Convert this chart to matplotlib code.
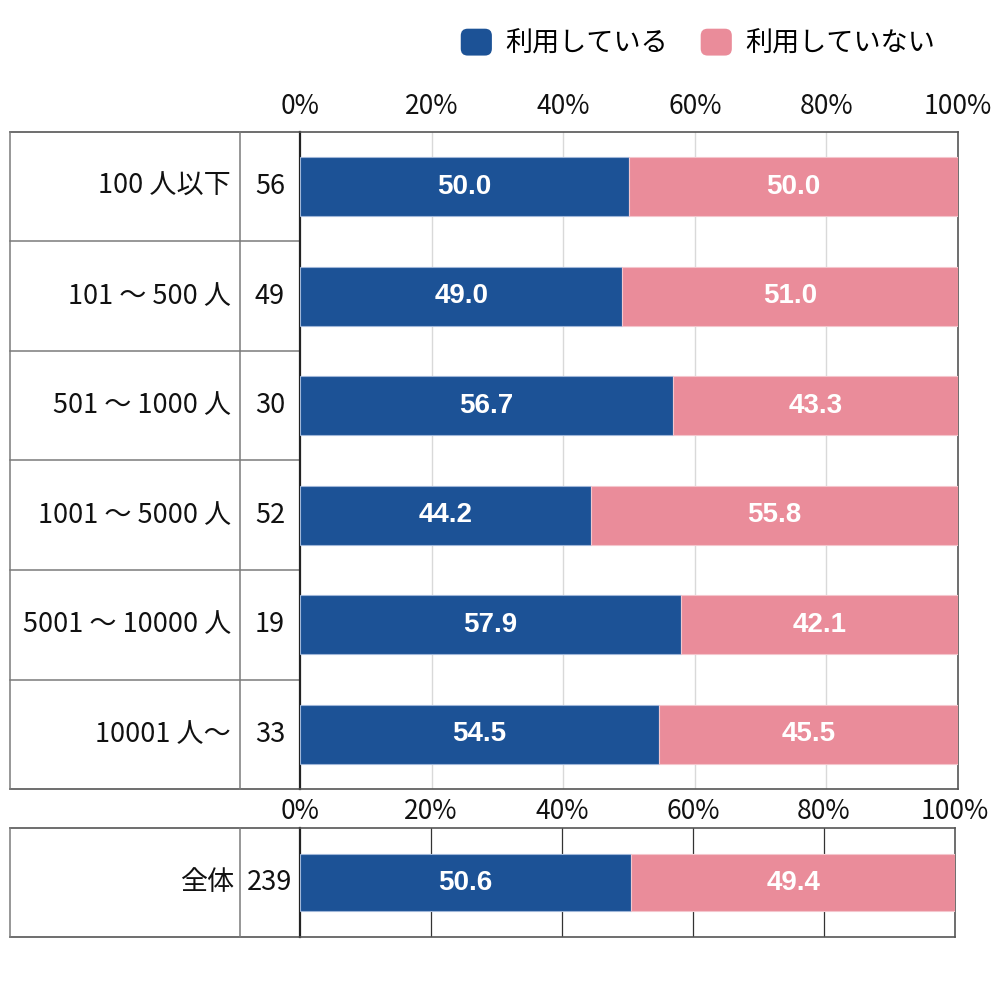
import matplotlib
matplotlib.use("Agg")
import matplotlib.pyplot as plt
from matplotlib.patches import Patch, FancyBboxPatch
from matplotlib.legend_handler import HandlerPatch
from matplotlib.lines import Line2D
import numpy as np

plt.rcParams['font.family'] = ['Noto Sans CJK JP', 'DejaVu Sans']

categories = ['100 人以下', '101 ～ 500 人', '501 ～ 1000 人', '1001 ～ 5000 人', '5001 ～ 10000 人', '10001 人～']
counts = [56, 49, 30, 52, 19, 33]
using = [50.0, 49.0, 56.7, 44.2, 57.9, 54.5]
not_using = [50.0, 51.0, 43.3, 55.8, 42.1, 45.5]
total_label = '全体'
total_count = 239
total_using = 50.6
total_not = 49.4
series_names = ['利用している', '利用していない']
ticks = [0, 20, 40, 60, 80, 100]
tick_labels = ['0%', '20%', '40%', '60%', '80%', '100%']

BLUE = '#1C5296'
PINK = '#EA8C9A'
LINE = '#7a7a7a'
EDGE_B = '#9fb6d8'
EDGE_P = '#f4c6cd'
TXT = '#111111'
TICK_FS = 19
LAB_FS = 19.5
VAL_FS = 20

W, H = 1000, 1005
fig = plt.figure(figsize=(W / 100, H / 100), dpi=100)

def fx(px):
    return px / W

def fy(py):
    return 1 - py / H

# ---- top section ----
L, R, T, B = 300, 958, 132, 789
ax = fig.add_axes([fx(L), fy(B), fx(R) - fx(L), fy(T) - fy(B)])
y = np.arange(len(categories))
ax.barh(y, using, height=0.54, color=BLUE, edgecolor=EDGE_B, linewidth=0.8, zorder=3)
ax.barh(y, not_using, left=using, height=0.54, color=PINK, edgecolor=EDGE_P, linewidth=0.8, zorder=3)
ax.set_xlim(0, 100)
ax.set_ylim(len(categories) - 0.5, -0.5)
ax.set_yticks([])
ax.set_xticks(ticks)
ax.set_xticklabels(tick_labels, fontsize=TICK_FS)
ax.xaxis.tick_top()
ax.tick_params(axis='x', length=0, pad=9, colors=TXT)
for v in ticks[1:-1]:
    ax.axvline(v, color='#d9d9d9', lw=1, zorder=1)
for s in ['top', 'bottom', 'right']:
    ax.spines[s].set_color('#555555')
    ax.spines[s].set_linewidth(1.2)
ax.spines['left'].set_color('#222222')
ax.spines['left'].set_linewidth(1.6)

tr = ax.get_yaxis_transform()
for i in range(len(categories)):
    ax.text(using[i] / 2, i, f'{using[i]:.1f}', ha='center', va='center', color='white',
            fontsize=VAL_FS, fontweight='bold', family='Liberation Sans', zorder=4)
    ax.text(using[i] + not_using[i] / 2, i, f'{not_using[i]:.1f}', ha='center', va='center',
            color='white', fontsize=VAL_FS, fontweight='bold', family='Liberation Sans', zorder=4)
    ax.text((231 - L) / (R - L), i, categories[i], transform=tr,
            ha='right', va='center', fontsize=LAB_FS, color=TXT)
    ax.text((270 - L) / (R - L), i, str(counts[i]), transform=tr,
            ha='center', va='center', fontsize=LAB_FS, color=TXT)

x10 = (10 - L) / (R - L)
x240 = (240 - L) / (R - L)
for k in range(1, len(categories)):
    ax.add_line(Line2D([x10, 0], [k - 0.5, k - 0.5], transform=tr, color=LINE, lw=1.1, clip_on=False))
ax.add_line(Line2D([x10, 0], [-0.5, -0.5], transform=tr, color='#555555', lw=1.2, clip_on=False))
ax.add_line(Line2D([x10, 0], [len(categories) - 0.5] * 2, transform=tr, color='#555555', lw=1.2, clip_on=False))
for xv in [x10, x240]:
    ax.add_line(Line2D([xv, xv], [-0.5, len(categories) - 0.5], transform=tr, color=LINE, lw=1.1, clip_on=False))

# ---- bottom section ----
L2, R2, T2, B2 = 300, 955, 828, 937
ax2 = fig.add_axes([fx(L2), fy(B2), fx(R2) - fx(L2), fy(T2) - fy(B2)])
ax2.barh([0], [total_using], height=0.53, color=BLUE, edgecolor=EDGE_B, linewidth=0.8, zorder=3)
ax2.barh([0], [total_not], left=[total_using], height=0.53, color=PINK, edgecolor=EDGE_P, linewidth=0.8, zorder=3)
ax2.set_xlim(0, 100)
ax2.set_ylim(0.5, -0.5)
ax2.set_yticks([])
ax2.set_xticks(ticks)
ax2.set_xticklabels(tick_labels, fontsize=TICK_FS)
ax2.xaxis.tick_top()
ax2.tick_params(axis='x', length=0, pad=2, colors=TXT)
for v in ticks[1:-1]:
    ax2.axvline(v, color='#333333', lw=0.9, zorder=1)
for s in ['top', 'bottom', 'right']:
    ax2.spines[s].set_color('#555555')
    ax2.spines[s].set_linewidth(1.2)
ax2.spines['left'].set_color('#222222')
ax2.spines['left'].set_linewidth(1.6)
ax2.text(total_using / 2, 0, f'{total_using:.1f}', ha='center', va='center', color='white',
         fontsize=VAL_FS, fontweight='bold', family='Liberation Sans', zorder=4)
ax2.text(total_using + total_not / 2, 0, f'{total_not:.1f}', ha='center', va='center', color='white',
         fontsize=VAL_FS, fontweight='bold', family='Liberation Sans', zorder=4)
tr2 = ax2.get_yaxis_transform()
ax2.text((234 - L2) / (R2 - L2), 0, total_label, transform=tr2, ha='right', va='center',
         fontsize=LAB_FS, color=TXT)
ax2.text((270 - L2) / (R2 - L2), 0, str(total_count), transform=tr2, ha='center', va='center',
         fontsize=LAB_FS, color=TXT)
bx10 = (10 - L2) / (R2 - L2)
bx240 = (240 - L2) / (R2 - L2)
ax2.add_line(Line2D([bx10, 0], [-0.5, -0.5], transform=tr2, color='#555555', lw=1.2, clip_on=False))
ax2.add_line(Line2D([bx10, 0], [0.5, 0.5], transform=tr2, color='#555555', lw=1.2, clip_on=False))
for xv in [bx10, bx240]:
    ax2.add_line(Line2D([xv, xv], [-0.5, 0.5], transform=tr2, color=LINE, lw=1.1, clip_on=False))

# ---- legend ----
class RoundSquare(HandlerPatch):
    def create_artists(self, legend, orig_handle, xdescent, ydescent, width, height, fontsize, trans):
        side = min(width, height)
        p = FancyBboxPatch((-xdescent, -ydescent + (height - side) / 2), width, side,
                           boxstyle='round,pad=0,rounding_size=5',
                           facecolor=orig_handle.get_facecolor(), edgecolor='none', transform=trans)
        return [p]

handles = [Patch(facecolor=BLUE), Patch(facecolor=PINK)]
fig.legend(handles, series_names, loc='center', bbox_to_anchor=(fx(698), fy(43)), ncol=2,
           frameon=False, fontsize=LAB_FS, handlelength=1.15, handleheight=1.15,
           handletextpad=0.5, columnspacing=1.2,
           handler_map={Patch: RoundSquare()})

fig.savefig('out.png', dpi=100, facecolor='white')
